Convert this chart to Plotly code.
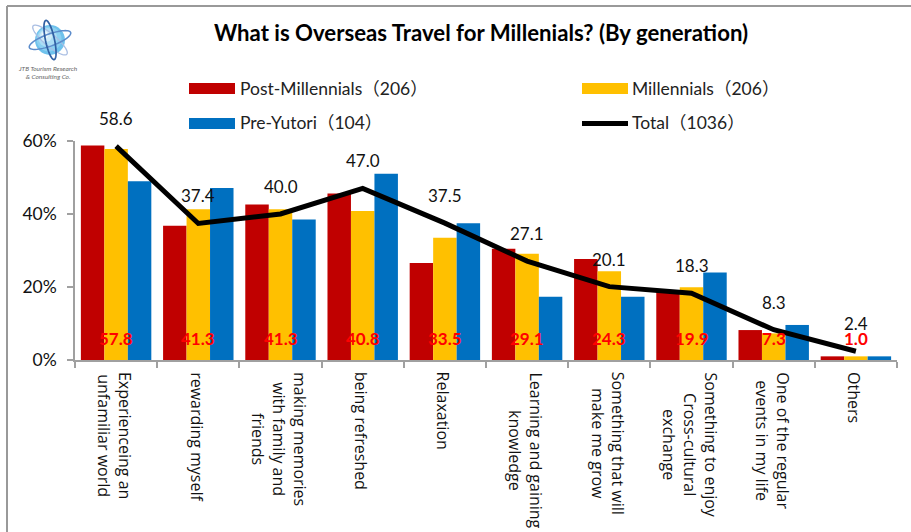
import numpy as np
import plotly.graph_objects as go

W, H = 911, 532
PLOT_L, PLOT_R, PLOT_T, PLOT_B = 75, 897, 141, 360

TITLE = "What is Overseas Travel for Millenials? (By generation)"

categories = [
    "Experienceing an<br>unfamiliar world",
    "rewarding myself",
    "making memories<br>with family and<br>friends",
    "being refreshed",
    "Relaxation",
    "Learning and gaining<br>knowledge",
    "Something that will<br>make me grow",
    "Something to enjoy<br>Cross-cultural<br>exchange",
    "One of the regular<br>events in my life",
    "Others",
]
post_millennials = [58.8, 36.8, 42.6, 45.6, 26.6, 30.5, 27.7, 18.9, 8.2, 1.0]
millennials = [57.8, 41.3, 41.3, 40.8, 33.5, 29.1, 24.3, 19.9, 7.3, 1.0]
pre_yutori = [49.0, 47.1, 38.5, 51.0, 37.5, 17.3, 17.3, 24.0, 9.6, 1.0]
total = [58.6, 37.4, 40.0, 47.0, 37.5, 27.1, 20.1, 18.3, 8.3, 2.4]

series_names = ["Post-Millennials（206）", "Millennials（206）", "Pre-Yutori（104）", "Total（1036）"]
RED, AMBER, BLUE, BLACK = "#C00000", "#FFC000", "#0070C0", "#000000"
AXIS_GREY = "#A0A0A0"
LATIN = "Lato, 'Noto Sans CJK JP', sans-serif"
LABEL_FONT = "'Open Sans', sans-serif"


def px_x(x):
    return (x - PLOT_L) / (PLOT_R - PLOT_L)


def px_y(y):
    return (PLOT_B - y) / (PLOT_B - PLOT_T)


def paper_shape(kind, x0, y0, x1, y1, **style):
    return dict(type=kind, xref="paper", yref="paper", layer="above",
                x0=px_x(x0), y0=px_y(y0), x1=px_x(x1), y1=px_y(y1), **style)


def ellipse_path(cx, cy, rx, ry, degrees):
    angle = np.radians(degrees)
    t = np.linspace(0, 2 * np.pi, 60)
    xs = cx + rx * np.cos(t) * np.cos(angle) - ry * np.sin(t) * np.sin(angle)
    ys = cy + rx * np.cos(t) * np.sin(angle) + ry * np.sin(t) * np.cos(angle)
    pts = [f"{px_x(x):.5f},{px_y(y):.5f}" for x, y in zip(xs, ys)]
    return "M" + "L".join(pts) + "Z"


fig = go.Figure()
for name, values, color in [
    (series_names[0], post_millennials, RED),
    (series_names[1], millennials, AMBER),
    (series_names[2], pre_yutori, BLUE),
]:
    fig.add_bar(x=categories, y=values, name=name, marker_color=color,
                marker_line_width=0, hoverinfo="y+name")
fig.add_scatter(x=categories, y=total, name=series_names[3], mode="lines",
                line=dict(color=BLACK, width=5))

annotations = []
# Total values sit above the line, millennial values in red near the baseline.
for i, v in enumerate(total):
    annotations.append(dict(x=i, y=v, yshift=27.5, text=f"{v:.1f}", showarrow=False,
                            font=dict(family=LATIN, size=17, color="#111111")))
for i, v in enumerate(millennials):
    annotations.append(dict(x=i, y=6, text=f"{v:.1f}", showarrow=False,
                            font=dict(family=LATIN, size=17, color="#FF0000", weight="bold")))
# Category names run downward under the axis.
for i, label in enumerate(categories):
    annotations.append(dict(x=i, y=0, yref="paper", yanchor="top", yshift=-10, xshift=-1.5,
                            text=label, textangle=90, showarrow=False, align="center",
                            font=dict(family=LABEL_FONT, size=16, color="#111111")))

# Legend laid out in two rows and two columns.
for x, y, name in [(238, 88, series_names[0]), (630, 88, series_names[1]),
                   (238, 123, series_names[2]), (630, 123, series_names[3])]:
    annotations.append(dict(x=px_x(x), y=px_y(y), xref="paper", yref="paper",
                            xanchor="left", yanchor="middle", text=name, showarrow=False,
                            font=dict(family=LATIN, size=17.5, color="#222222")))

# Company mark caption.
annotations.append(dict(x=px_x(48), y=px_y(72.5), xref="paper", yref="paper",
                        xanchor="center", yanchor="middle",
                        text="<i>JTB Tourism Research<br>&amp; Consulting Co.</i>", showarrow=False,
                        font=dict(family=LATIN, size=6.5, color="#666666")))

shapes = [
    paper_shape("rect", 189, 83, 235, 94, fillcolor=RED, line_width=0),
    paper_shape("rect", 582, 83, 628, 94, fillcolor=AMBER, line_width=0),
    paper_shape("rect", 189, 118, 235, 129, fillcolor=BLUE, line_width=0),
    paper_shape("line", 582, 123.5, 628, 123.5, line=dict(color=BLACK, width=5)),
    # Outer frame along the top and left edges.
    paper_shape("line", 7, 6, W, 6, line=dict(color="#999999", width=2)),
    paper_shape("line", 7, 6, 7, H, line=dict(color="#999999", width=2)),
]

# Company mark: a shaded globe with three orbits.
for r, dx, color in [(15, 0, "#6FC2EC"), (12.5, -1, "#8BD0F1"), (9.5, -2.5, "#ABDDF5"),
                     (6, -4, "#D0ECF9"), (3, -5, "#F2FAFD")]:
    cx, cy = 50 + dx, 40 + dx
    shapes.append(paper_shape("circle", cx - r, cy - r, cx + r, cy + r, fillcolor=color, line_width=0))
for rx, ry, deg, color, width in [(22, 6, 40, "#A9BEE3", 1.3), (22, 6, -20, "#5C8CCB", 1.5),
                                  (20, 4.5, 78, "#2F5FA3", 1.7)]:
    shapes.append(dict(type="path", xref="paper", yref="paper", layer="above",
                       path=ellipse_path(50, 40, rx, ry, deg), line=dict(color=color, width=width)))

fig.update_layout(
    width=W, height=H, autosize=False,
    margin=dict(l=PLOT_L, r=W - PLOT_R, t=PLOT_T, b=H - PLOT_B, pad=0),
    paper_bgcolor="white", plot_bgcolor="white",
    barmode="group", bargap=0.143, bargroupgap=0,
    showlegend=False,
    title=dict(text=f"<b>{TITLE}</b>", x=481 / W, y=1 - 33 / H, xanchor="center", yanchor="middle",
               font=dict(family=LATIN, size=22.2, color="#000000")),
    annotations=annotations, shapes=shapes,
    xaxis=dict(type="category", range=[-0.5, 9.5], showticklabels=False, showgrid=False,
               ticks="outside", ticklen=6, tickwidth=1.5, tickcolor=AXIS_GREY, tickson="boundaries",
               showline=True, linecolor=AXIS_GREY, linewidth=1.5, zeroline=False),
    yaxis=dict(range=[0, 60], tickvals=[0, 20, 40, 60], ticktext=["0%", "20%", "40%", "60%"],
               ticks="outside", ticklen=6, tickwidth=1.5, tickcolor=AXIS_GREY, showgrid=False,
               showline=True, linecolor=AXIS_GREY, linewidth=1.5, zeroline=False,
               ticklabelstandoff=7, tickfont=dict(family=LATIN, size=17.5, color="#111111")),
)

fig.write_html("out.html", config=dict(displayModeBar=False))
